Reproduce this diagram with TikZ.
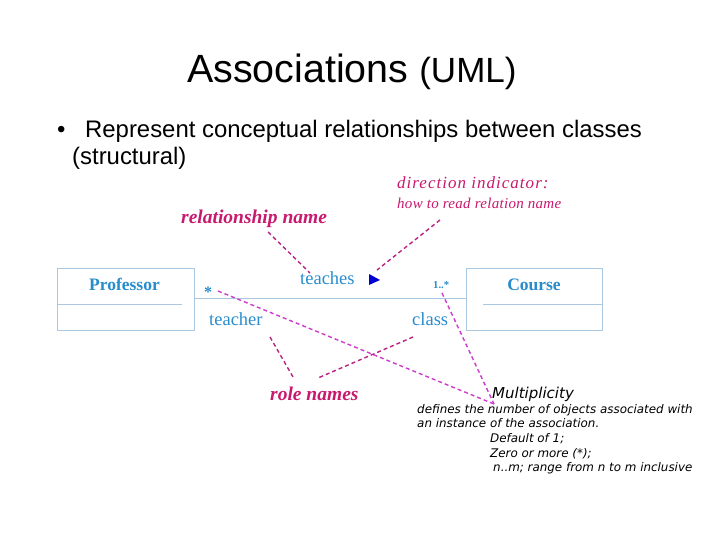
\documentclass[tikz,border=0pt]{standalone}
\usepackage{fontspec}
\setmainfont{Liberation Serif}
\newfontfamily\slidefont{Liberation Sans}
\newfontfamily\notefont{DejaVu Sans}
\usepackage{tikz}
\usetikzlibrary{positioning}
\definecolor{umlblue}{RGB}{40,140,205}
\definecolor{umlline}{RGB}{170,200,225}
\definecolor{notered}{RGB}{200,25,110}
\definecolor{dashdark}{RGB}{185,35,130}
\definecolor{dashlight}{RGB}{205,60,205}

\begin{document}
\begin{tikzpicture}[x=1pt,y=-1pt,
  txt/.style={inner sep=0pt,anchor=base west},
  classbox/.style={draw=umlline,line width=1pt,minimum width=137pt,minimum height=62pt,inner sep=0pt},
  cname/.style={txt,anchor=base,text=umlblue,font=\fontsize{17.5}{20}\selectfont\bfseries},
  role/.style={txt,text=umlblue,font=\fontsize{18.5}{21}\selectfont},
  hint/.style={txt,text=notered,font=\fontsize{19.5}{22}\selectfont\bfseries\itshape},
  note/.style={txt,font=\notefont\fontsize{11.9}{14}\selectfont\itshape},
  pointer/.style={dashed,dash pattern=on 4pt off 3pt,line width=1.4pt}]
\useasboundingbox[fill=white] (0,0) rectangle (720,540);

\node[txt,font=\slidefont] (title) at (187,83) {{\fontsize{39.4}{44}\selectfont Associations }{\fontsize{35}{40}\selectfont (UML)}};
\node[txt,font=\slidefont\fontsize{23.9}{27}\selectfont] (dot) at (57,138) {\textbullet};
\node[txt,font=\slidefont\fontsize{23.9}{27}\selectfont] (point) at (85,138) {Represent conceptual relationships between classes};
\node[txt,font=\slidefont\fontsize{23.9}{27}\selectfont] (point2) at (72,165) {(structural)};

\node[classbox] (prof) at (125.5,299) {};
\node[classbox,minimum width=136pt] (course) at (534,299) {};
\node[cname] (profname) at (124.5,290) {Professor};
\node[cname] (coursename) at (534,290) {Course};
\draw[umlline,line width=1pt] (prof.west |- 0,304) -- (182,304);
\draw[umlline,line width=1pt] (483,304) -- (course.east |- 0,304);
\draw[umlline,line width=1pt] (prof.east |- 0,298) -- (course.west |- 0,298);

\node[role] (assoc) at (300,284) {teaches};
\node[role] (teacher) at (209,325) {teacher};
\node[role] (class) at (412,325) {class};
\node[txt,text=umlblue,font=\fontsize{16}{18}\selectfont\bfseries] (many) at (204,297) {*};
\node[txt,text=umlblue,font=\fontsize{10.7}{12}\selectfont\bfseries] (range) at (433,288) {1..*};
\fill[fill={rgb,255:red,0;green,0;blue,210}] (369,274) coordinate (arrowtop) -- (380,280) coordinate (arrowtip) -- (369,285) -- cycle;

\node[hint] (relname) at (181,223) {relationship name};
\node[txt,text=notered,font=\fontsize{17}{20}\selectfont\itshape\addfontfeature{LetterSpace=6}] (dirname) at (397,189) {direction indicator:};
\node[txt,text=notered,font=\fontsize{15}{18}\selectfont\itshape\addfontfeature{LetterSpace=2}] (dirhow) at (397,208) {how to read relation name};
\node[hint] (rolenames) at (270,400) {role names};

\node[txt,font=\notefont\fontsize{15}{18}\selectfont\itshape] (mult) at (492,398) {Multiplicity};
\node[note] (m1) at (417,413) {defines the number of objects associated with};
\node[note] (m2) at (417,427.7) {an instance of the association.};
\node[note] (m3) at (490,442.4) {Default of 1;};
\node[note] (m4) at (490,457.1) {Zero or more (*);};
\node[note] (m5) at (493,471.8) {n..m; range from n to m inclusive};

\coordinate (relfoot) at (268,232);
\coordinate (relhead) at (310,273);
\coordinate (dirfoot) at (440,220);
\coordinate (dirhead) at (377,270);
\coordinate (manyend) at (218,291);
\coordinate (rangeend) at (442,293);
\coordinate (multpt) at (494,404);
\coordinate (teacherend) at (270,337);
\coordinate (classend) at (413,337);
\coordinate (rolel) at (293,377);
\coordinate (roler) at (318,378);

\draw[pointer,dashdark] (relfoot) -- (relhead);
\draw[pointer,dashdark] (dirfoot) -- (dirhead);
\draw[pointer,dashlight] (manyend) -- (multpt);
\draw[pointer,dashlight] (rangeend) -- (multpt);
\draw[pointer,dashdark] (teacherend) -- (rolel);
\draw[pointer,dashdark] (classend) -- (roler);
\end{tikzpicture}
\end{document}
